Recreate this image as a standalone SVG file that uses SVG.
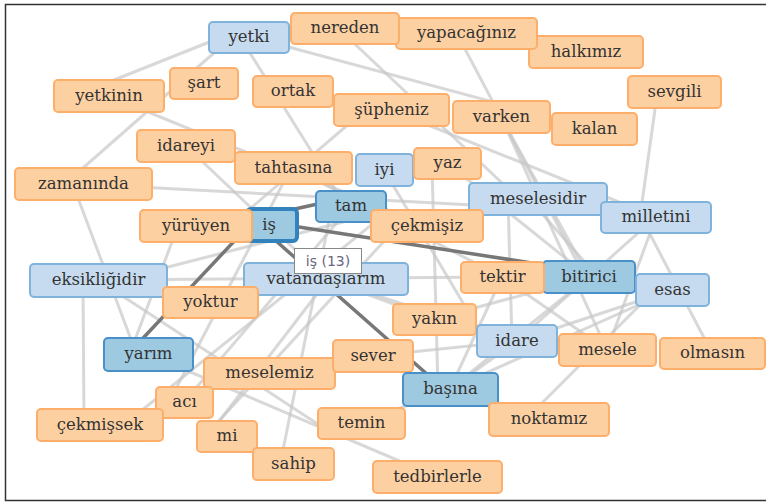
<svg xmlns="http://www.w3.org/2000/svg" width="766" height="502" viewBox="0 0 766 502">
<style>
.e line{stroke:#c8c8c8;stroke-opacity:0.7;stroke-width:3}
.d line{stroke:#777;stroke-width:3.5}
.or rect{fill:#fdd0a2;stroke:#fdae6b;stroke-width:2}
.lb rect{fill:#c6dbef;stroke:#7fb3dc;stroke-width:2}
.db rect{fill:#9ecae1;stroke:#4a90c8;stroke-width:2}
.sel rect{fill:#9ecae1;stroke:#3182bd;stroke-width:4}
text{font-family:"DejaVu Serif","Liberation Serif",serif;font-size:16.5px;fill:#333;text-anchor:middle}
.tip text{font-family:"DejaVu Sans","Liberation Sans",sans-serif;font-size:14px;fill:#6b6580}
</style>
<rect width="766" height="502" fill="#fff"/>
<path d="M768 4.5H5.5V500.5H768" fill="none" stroke="#333" stroke-width="1.5"/>
<g id="connectors">
<g class="e">
<line x1="237" y1="31" x2="99" y2="86"/>
<line x1="215" y1="52" x2="75" y2="175"/>
<line x1="245" y1="45" x2="345" y2="205"/>
<line x1="255" y1="38" x2="594" y2="129"/>
<line x1="340" y1="30" x2="520" y2="200"/>
<line x1="455" y1="30" x2="585" y2="277"/>
<line x1="501" y1="117" x2="589" y2="277"/>
<line x1="391" y1="110" x2="656" y2="217"/>
<line x1="109" y1="96" x2="427" y2="226"/>
<line x1="186" y1="146" x2="326" y2="279"/>
<line x1="83" y1="184" x2="656" y2="215"/>
<line x1="75" y1="190" x2="135" y2="350"/>
<line x1="657" y1="95" x2="640" y2="217"/>
<line x1="640" y1="215" x2="712" y2="353"/>
<line x1="178" y1="226" x2="133" y2="345"/>
<line x1="98" y1="280" x2="330" y2="432"/>
<line x1="148" y1="354" x2="437" y2="477"/>
<line x1="184" y1="402" x2="351" y2="206"/>
<line x1="281" y1="460" x2="332" y2="206"/>
<line x1="105" y1="440" x2="375" y2="222"/>
<line x1="214" y1="428" x2="320" y2="290"/>
<line x1="398" y1="226" x2="205" y2="436"/>
<line x1="432" y1="165" x2="438" y2="389"/>
<line x1="450" y1="389" x2="502" y2="277"/>
<line x1="450" y1="389" x2="589" y2="277"/>
<line x1="450" y1="389" x2="517" y2="341"/>
<line x1="450" y1="389" x2="672" y2="290"/>
<line x1="530" y1="415" x2="652" y2="293"/>
<line x1="450" y1="389" x2="361" y2="423"/>
<line x1="502" y1="277" x2="607" y2="350"/>
<line x1="656" y1="217" x2="607" y2="350"/>
<line x1="672" y1="290" x2="517" y2="341"/>
<line x1="508" y1="199" x2="512" y2="341"/>
<line x1="529" y1="199" x2="598" y2="277"/>
<line x1="656" y1="217" x2="517" y2="341"/>
<line x1="384" y1="170" x2="488" y2="345"/>
<line x1="98" y1="285" x2="351" y2="220"/>
<line x1="98" y1="280" x2="502" y2="277"/>
<line x1="83" y1="280" x2="84" y2="425"/>
<line x1="169" y1="402" x2="291" y2="168"/>
<line x1="365" y1="110" x2="230" y2="226"/>
<line x1="326" y1="279" x2="434" y2="319"/>
<line x1="373" y1="356" x2="517" y2="341"/>
<line x1="293" y1="168" x2="502" y2="277"/>
<line x1="501" y1="117" x2="607" y2="350"/>
<line x1="447" y1="163" x2="589" y2="277"/>
<line x1="434" y1="319" x2="589" y2="277"/>
<line x1="326" y1="279" x2="517" y2="341"/>
</g>
<g class="d">
<line x1="272" y1="214" x2="345" y2="198"/>
<line x1="255" y1="219" x2="130" y2="352"/>
<line x1="258" y1="225" x2="445" y2="390"/>
<line x1="260" y1="221" x2="590" y2="272"/>
</g>
</g>
<g id="n-yetki" class="lb"><rect x="209" y="22" width="80" height="31" rx="4"/><text x="249" y="42">yetki</text></g>
<g id="n-halkimiz" class="or"><rect x="529" y="36" width="114" height="32" rx="4"/><text x="586" y="57">halkımız</text></g>
<g id="n-yapacaginiz" class="or"><rect x="396" y="18" width="141" height="31" rx="4"/><text x="466.5" y="38">yapacağınız</text></g>
<g id="n-nereden" class="or"><rect x="291" y="13" width="108" height="31" rx="4"/><text x="345" y="33">nereden</text></g>
<g id="n-sevgili" class="or"><rect x="628" y="76" width="93" height="32" rx="4"/><text x="674.5" y="97">sevgili</text></g>
<g id="n-kalan" class="or"><rect x="552" y="113" width="85" height="32" rx="4"/><text x="594.5" y="134">kalan</text></g>
<g id="n-varken" class="or"><rect x="453" y="101" width="97" height="32" rx="4"/><text x="501.5" y="122">varken</text></g>
<g id="n-supheniz" class="or"><rect x="334" y="94" width="115" height="32" rx="4"/><text x="391.5" y="115">şüpheniz</text></g>
<g id="n-ortak" class="or"><rect x="253" y="76" width="80" height="31" rx="4"/><text x="293" y="96">ortak</text></g>
<g id="n-sart" class="or"><rect x="170" y="68" width="68" height="31" rx="4"/><text x="204" y="88">şart</text></g>
<g id="n-yetkinin" class="or"><rect x="54" y="80" width="110" height="32" rx="4"/><text x="109" y="101">yetkinin</text></g>
<g id="n-idareyi" class="or"><rect x="137" y="130" width="98" height="32" rx="4"/><text x="186" y="151">idareyi</text></g>
<g id="n-tahtasina" class="or"><rect x="235" y="152" width="117" height="32" rx="4"/><text x="293.5" y="173">tahtasına</text></g>
<g id="n-iyi" class="lb"><rect x="356" y="154" width="57" height="32" rx="4"/><text x="384.5" y="175">iyi</text></g>
<g id="n-yaz" class="or"><rect x="414" y="148" width="67" height="31" rx="4"/><text x="447.5" y="168">yaz</text></g>
<g id="n-zamaninda" class="or"><rect x="15" y="168" width="137" height="32" rx="4"/><text x="83.5" y="189">zamanında</text></g>
<g id="n-meselesidir" class="lb"><rect x="469" y="183" width="138" height="32" rx="4"/><text x="538" y="204">meselesidir</text></g>
<g id="n-milletini" class="lb"><rect x="601" y="202" width="110" height="31" rx="4"/><text x="656" y="222">milletini</text></g>
<g id="n-tam" class="db"><rect x="316" y="191" width="70" height="31" rx="4"/><text x="351" y="211">tam</text></g>
<g id="n-cekmisiz" class="or"><rect x="371" y="210" width="112" height="32" rx="4"/><text x="427" y="231">çekmişiz</text></g>
<g id="n-is" class="sel"><rect x="247" y="209" width="50" height="32" rx="4"/><text x="269" y="230">iş</text></g>
<g id="n-yuruyen" class="or"><rect x="140" y="210" width="112" height="32" rx="4"/><text x="196" y="231">yürüyen</text></g>
<g id="n-eksikligidir" class="lb"><rect x="30" y="264" width="137" height="33" rx="4"/><text x="98.5" y="285">eksikliğidir</text></g>
<g id="n-vatandaslarim" class="lb"><rect x="244" y="263" width="164" height="32" rx="4"/><text x="326" y="284">vatandaşlarım</text></g>
<g id="n-yoktur" class="or"><rect x="163" y="287" width="95" height="31" rx="4"/><text x="210.5" y="307">yoktur</text></g>
<g id="n-bitirici" class="db"><rect x="543" y="261" width="92" height="32" rx="4"/><text x="589" y="282">bitirici</text></g>
<g id="n-tektir" class="or"><rect x="461" y="262" width="83" height="31" rx="4"/><text x="502.5" y="282">tektir</text></g>
<g id="n-esas" class="lb"><rect x="636" y="274" width="73" height="32" rx="4"/><text x="672.5" y="295">esas</text></g>
<g id="n-yakin" class="or"><rect x="393" y="304" width="83" height="31" rx="4"/><text x="434.5" y="324">yakın</text></g>
<g id="n-idare" class="lb"><rect x="477" y="325" width="80" height="32" rx="4"/><text x="517" y="346">idare</text></g>
<g id="n-mesele" class="or"><rect x="559" y="334" width="97" height="32" rx="4"/><text x="607.5" y="355">mesele</text></g>
<g id="n-olmasin" class="or"><rect x="660" y="338" width="105" height="31" rx="4"/><text x="712.5" y="358">olmasın</text></g>
<g id="n-yarim" class="db"><rect x="104" y="338" width="89" height="33" rx="4"/><text x="148.5" y="359">yarım</text></g>
<g id="n-meselemiz" class="or"><rect x="204" y="358" width="131" height="31" rx="4"/><text x="269.5" y="378">meselemiz</text></g>
<g id="n-sever" class="or"><rect x="333" y="340" width="80" height="32" rx="4"/><text x="373" y="361">sever</text></g>
<g id="n-basina" class="db"><rect x="403" y="373" width="95" height="33" rx="4"/><text x="450.5" y="394">başına</text></g>
<g id="n-aci" class="or"><rect x="156" y="387" width="57" height="31" rx="4"/><text x="184.5" y="407">acı</text></g>
<g id="n-cekmissek" class="or"><rect x="37" y="409" width="126" height="32" rx="4"/><text x="100" y="430">çekmişsek</text></g>
<g id="n-mi" class="or"><rect x="197" y="421" width="60" height="31" rx="4"/><text x="227" y="441">mi</text></g>
<g id="n-temin" class="or"><rect x="318" y="408" width="87" height="31" rx="4"/><text x="361.5" y="428">temin</text></g>
<g id="n-noktamiz" class="or"><rect x="489" y="403" width="120" height="33" rx="4"/><text x="549" y="424">noktamız</text></g>
<g id="n-sahip" class="or"><rect x="253" y="448" width="81" height="32" rx="4"/><text x="293.5" y="469">sahip</text></g>
<g id="n-tedbirlerle" class="or"><rect x="373" y="461" width="129" height="32" rx="4"/><text x="437.5" y="482">tedbirlerle</text></g>
<g id="tooltip" class="tip"><rect x="294.5" y="248.5" width="67" height="25" fill="#fff" stroke="#888" stroke-width="1"/><text x="328" y="266">iş (13)</text></g>
</svg>
